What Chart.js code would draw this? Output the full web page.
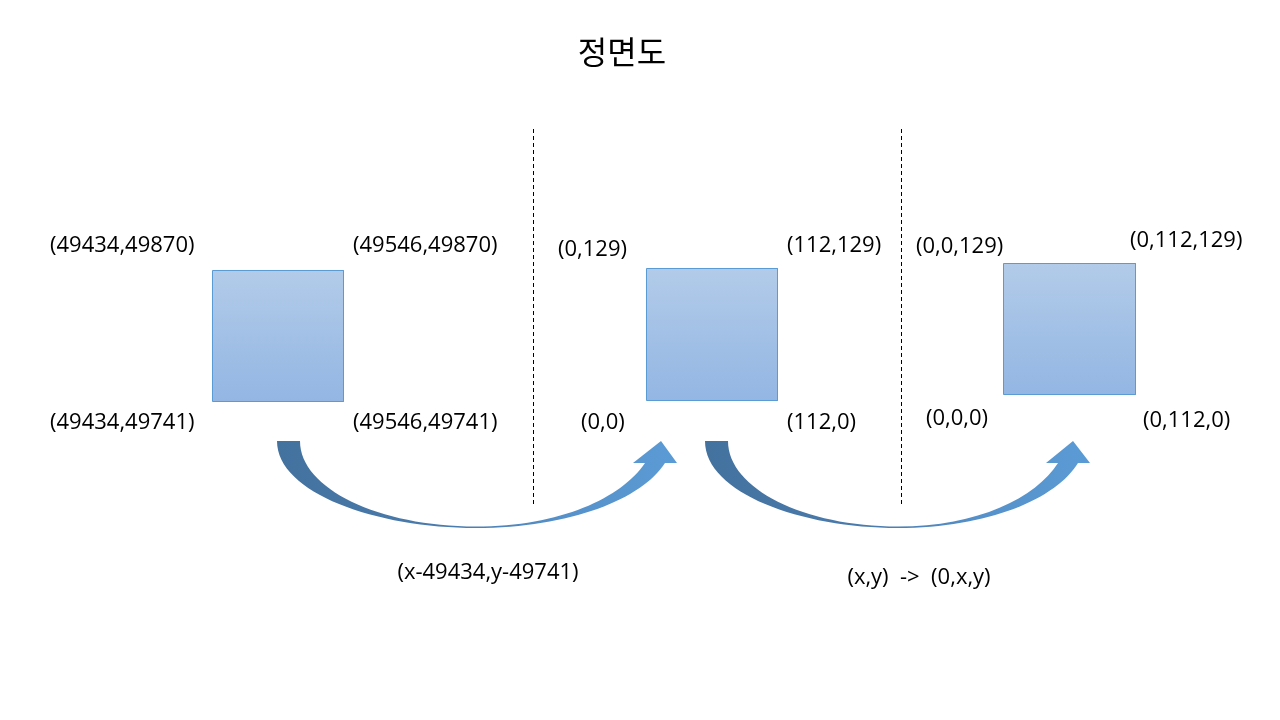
<!DOCTYPE html>
<html>
<head>
<meta charset="utf-8">
<script src="https://cdn.jsdelivr.net/npm/chart.js@4.4.1/dist/chart.umd.min.js"></script>
<style>
html,body{margin:0;padding:0;background:#fff;}
#c{display:block;}
</style>
</head>
<body>
<canvas id="c" width="1280" height="720"></canvas>
<script>
// ---- content ----
const titleText = "정면도";
const cornerLabels = [
  "(49434,49870)", "(49546,49870)", "(49434,49741)", "(49546,49741)",
  "(0,129)", "(112,129)", "(0,0)", "(112,0)",
  "(0,0,129)", "(0,112,129)", "(0,0,0)", "(0,112,0)"
];
const transformLabels = ["(x-49434,y-49741)", "(x,y)  ->  (0,x,y)"];

// ---- diagram geometry (diagram units on the chart's own linear scales) ----
const squareLeft   = [212.5, 646.5, 1003.5];
const squareRight  = [343.5, 777.5, 1135.5];
const squareTop    = [270.5, 268.5, 263.5];
const squareBottom = [401.5, 400.5, 394.5];

const labelX = [50, 353, 50, 353, 558, 787, 581, 787, 916, 1130, 926, 1143];
const labelY = [246, 246, 423, 423, 250, 246, 423, 423, 247, 241, 419, 421];

const transformX = [488, 919];
const transformY = [573, 578];

const dividerX = [533.5, 901.5];
const dividerTop = [129, 129];
const dividerBottom = [504, 504];

const arrows = [
  {L:277, T:441, tw:23, Mx:476, B:528, Hc:655, Hy:463, Ht:441, hw:22, sw:20, tip:6},
  {L:705, T:441, tw:23, Mx:898, B:528, Hc:1068, Hy:463, Ht:441, hw:22, sw:20, tip:5}
];

// ---- datasets ----
const datasets = [];
squareLeft.forEach((l, i) => {
  const r = squareRight[i], t = squareTop[i], b = squareBottom[i];
  datasets.push({
    type: 'line',
    data: [{x:l,y:t},{x:r,y:t},{x:r,y:b},{x:l,y:b},{x:l,y:t}],
    borderColor: '#5b9bd5',
    borderWidth: 1,
    pointRadius: 0,
    tension: 0,
    fill: 'shape',
    backgroundColor: (c) => {
      const ch = c.chart;
      if (!ch.chartArea) return '#a3c0e6';
      const ys = ch.scales.y;
      const g = ch.ctx.createLinearGradient(0, ys.getPixelForValue(t), 0, ys.getPixelForValue(b));
      g.addColorStop(0, '#b2cbe9');
      g.addColorStop(1, '#93b6e3');
      return g;
    }
  });
});
dividerX.forEach((x, i) => {
  datasets.push({
    type: 'line',
    data: [{x:x,y:dividerTop[i]},{x:x,y:dividerBottom[i]}],
    borderColor: '#000',
    borderWidth: 1,
    borderDash: [4, 3],
    pointRadius: 0,
    fill: false
  });
});

const arrowPlugin = {
  id: 'arrows',
  beforeDatasetsDraw(chart) {
    const ctx = chart.ctx, X = chart.scales.x, Y = chart.scales.y;
    const px = v => X.getPixelForValue(v), py = v => Y.getPixelForValue(v);
    arrows.forEach(a => {
      const dyL = a.B - a.T;
      const Xr = a.Hc + a.sw/2, Xl = a.Hc - a.sw/2;
      const dxR = Xr - a.Mx, dxRl = Xl - a.Mx, dyR = a.B - a.Hy;
      const inner = a.L + a.tw;
      ctx.save();
      ctx.beginPath();
      ctx.moveTo(px(a.L), py(a.T));
      ctx.bezierCurveTo(px(a.L), py(a.T + 0.6*dyL), px(a.Mx - 0.5*(a.Mx - a.L)), py(a.B), px(a.Mx), py(a.B));
      ctx.bezierCurveTo(px(a.Mx + 0.5*dxR), py(a.B), px(Xr - 0.12*dxR), py(a.Hy + 0.55*dyR), px(Xr), py(a.Hy));
      ctx.lineTo(px(a.Hc + a.hw), py(a.Hy));
      ctx.lineTo(px(a.Hc + a.tip), py(a.Ht));
      ctx.lineTo(px(a.Hc - a.hw), py(a.Hy));
      ctx.lineTo(px(Xl), py(a.Hy));
      ctx.bezierCurveTo(px(Xl - 0.14*dxRl), py(a.Hy + 0.55*(dyR-1.5)), px(a.Mx + 0.5*dxRl), py(a.B - 1.5), px(a.Mx), py(a.B - 1.5));
      ctx.bezierCurveTo(px(a.Mx - 0.55*(a.Mx - inner)), py(a.B - 1.5), px(inner), py(a.T + 0.55*dyL), px(inner), py(a.T));
      ctx.closePath();
      const g = ctx.createLinearGradient(px(a.L), 0, px(a.Hc + a.hw), 0);
      g.addColorStop(0, '#44729f');
      g.addColorStop(0.45, '#4a7cae');
      g.addColorStop(0.7, '#5590c9');
      g.addColorStop(1, '#5b9bd5');
      ctx.fillStyle = g;
      ctx.fill();
      ctx.restore();
    });
  }
};

const textPlugin = {
  id: 'texts',
  afterDatasetsDraw(chart) {
    const ctx = chart.ctx, X = chart.scales.x, Y = chart.scales.y;
    ctx.save();
    ctx.fillStyle = '#000';
    ctx.textBaseline = 'middle';
    ctx.font = '32px "Noto Sans CJK KR", "Noto Sans", sans-serif';
    ctx.textAlign = 'center';
    ctx.fillText(titleText, X.getPixelForValue(622), Y.getPixelForValue(52));
    ctx.font = '22px "Open Sans", "Noto Sans", sans-serif';
    ctx.textAlign = 'left';
    cornerLabels.forEach((t, i) => ctx.fillText(t, X.getPixelForValue(labelX[i]), Y.getPixelForValue(labelY[i])));
    ctx.textAlign = 'center';
    transformLabels.forEach((t, i) => ctx.fillText(t, X.getPixelForValue(transformX[i]), Y.getPixelForValue(transformY[i])));
    ctx.restore();
  }
};

new Chart(document.getElementById('c'), {
  type: 'scatter',
  data: { datasets },
  options: {
    responsive: false,
    animation: false,
    layout: { padding: 0 },
    plugins: { legend: {display:false}, tooltip: {enabled:false}, title: {display:false} },
    scales: {
      x: { type:'linear', min:0, max:1280, display:false },
      y: { type:'linear', min:0, max:720, reverse:true, display:false }
    },
    events: []
  },
  plugins: [arrowPlugin, textPlugin]
});
</script>
</body>
</html>
